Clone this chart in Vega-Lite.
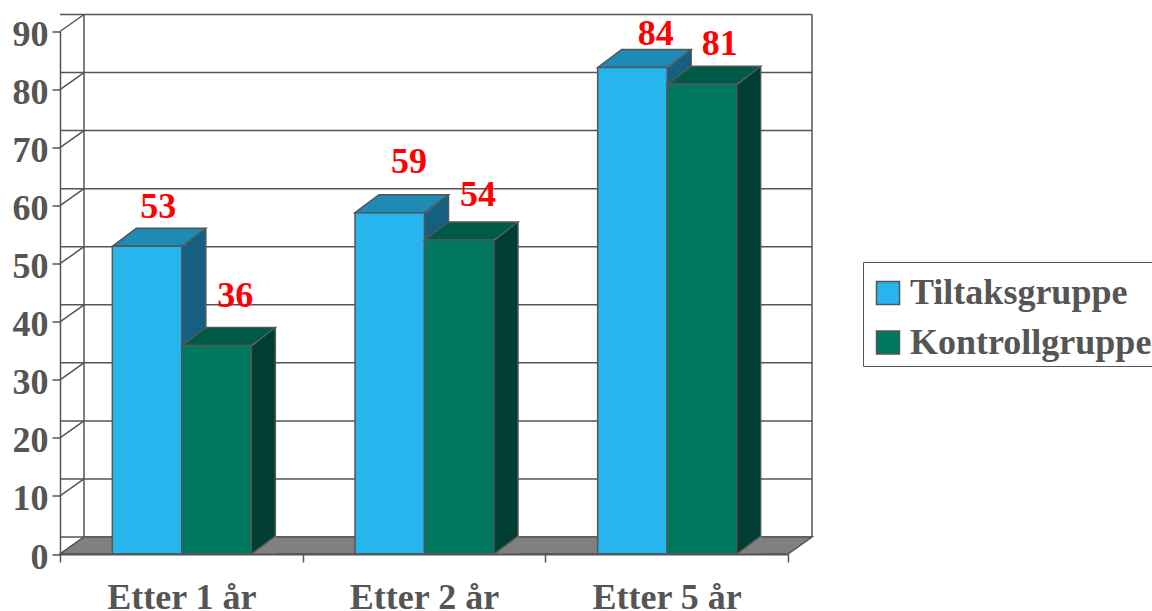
{
"$schema":"https://vega.github.io/schema/vega-lite/v6.json",
"width":728,"height":522.5,
"autosize":{"type":"none"},
"padding":{"left":60,"top":31.5,"right":364,"bottom":57},
"background":"white",
"config":{"view":{"stroke":null},"font":"Liberation Serif"},
"datasets":{
"bars":[
{"group":"Etter 1 år","series":"Tiltaksgruppe","value":53.0},
{"group":"Etter 1 år","series":"Kontrollgruppe","value":35.9},
{"group":"Etter 2 år","series":"Tiltaksgruppe","value":58.8},
{"group":"Etter 2 år","series":"Kontrollgruppe","value":54.1},
{"group":"Etter 5 år","series":"Tiltaksgruppe","value":83.8},
{"group":"Etter 5 år","series":"Kontrollgruppe","value":80.9}],
"ticks":[{"tick":0},{"tick":10},{"tick":20},{"tick":30},{"tick":40},{"tick":50},{"tick":60},{"tick":70},{"tick":80},{"tick":90}]
},
"layer":[
{"data":{"name":"ticks"},"mark":{"type":"rule","xOffset":24,"x2Offset":24,"yOffset":-17,"stroke":"#555555","strokeWidth":1.5},
 "encoding":{"y":{"field":"tick","type":"quantitative","scale":{"domain":[0,90],"nice":false},
   "axis":{"values":[0,10,20,30,40,50,60,70,80,90],"title":null,"grid":false,"domainColor":"#555555","domainWidth":1.5,"tickColor":"#555555","tickWidth":1.5,"tickSize":8,"labelPadding":4,"labelOffset":3,"labelFont":"Liberation Serif","labelFontWeight":"bold","labelFontSize":36,"labelColor":"#555555"}}}},
{"data":{"name":"ticks"},"mark":{"type":"point","shape":"M0,0L24,-17","size":4,"filled":false,"opacity":1,"stroke":"#555555","strokeWidth":1.5},
 "encoding":{"x":{"datum":"Etter 1 år","bandPosition":0,"type":"nominal"},"y":{"field":"tick","type":"quantitative"}}},
{"data":{"values":[{"a":1}]},"mark":{"type":"rule","xOffset":24,"yOffset":-17,"y2Offset":-17,"stroke":"#555555","strokeWidth":1.5},
 "encoding":{"x":{"datum":"Etter 1 år","bandPosition":0,"type":"nominal"},"y":{"datum":0},"y2":{"datum":90}}},
{"data":{"values":[{"a":1}]},"mark":{"type":"rule","xOffset":24,"yOffset":-17,"y2Offset":-17,"stroke":"#555555","strokeWidth":1.5},
 "encoding":{"x":{"datum":"Etter 5 år","bandPosition":1,"type":"nominal"},"y":{"datum":0},"y2":{"datum":90}}},
{"data":{"values":[{"a":1}]},"mark":{"type":"point","shape":"M0,0L24,-17L752,-17L728,0Z","size":4,"filled":true,"opacity":1,"fill":"#808080","stroke":"#555555","strokeWidth":1.5},
 "encoding":{"x":{"datum":"Etter 1 år","bandPosition":0,"type":"nominal"},"y":{"datum":0}}},

{"data":{"name":"bars"},"transform":[{"filter":"datum.series==='Tiltaksgruppe'"}],
 "mark":{"type":"bar","width":24,"xOffset":12.5,"fill":"#155F80"},
 "encoding":{"x":{"field":"group","type":"nominal"},"y":{"field":"value","type":"quantitative"},"y2":{"datum":0}}},
{"data":{"name":"bars"},"transform":[{"filter":"datum.series==='Tiltaksgruppe'"}],
 "mark":{"type":"point","shape":"M0,1L24,-18L24,1Z","size":4,"filled":true,"opacity":1,"fill":"#155F80","strokeWidth":0,"xOffset":0.5},
 "encoding":{"x":{"field":"group","type":"nominal"},"y":{"field":"value","type":"quantitative"}}},
{"data":{"name":"bars"},"transform":[{"filter":"datum.series==='Tiltaksgruppe'"}],
 "mark":{"type":"rule","xOffset":24.5,"yOffset":-18,"y2Offset":-18,"stroke":"#555555","strokeWidth":1.5},
 "encoding":{"x":{"field":"group","type":"nominal"},"y":{"field":"value","type":"quantitative"},"y2":{"datum":0}}},
{"data":{"name":"bars"},"transform":[{"filter":"datum.series==='Tiltaksgruppe'"}],
 "mark":{"type":"point","shape":"M0,0L24,-18L93.5,-18L69.5,0Z","size":4,"filled":true,"opacity":1,"fill":"#1E8BB5","stroke":"#555555","strokeWidth":1.5,"xOffset":-69},
 "encoding":{"x":{"field":"group","type":"nominal"},"y":{"field":"value","type":"quantitative"}}},
{"data":{"name":"bars"},"transform":[{"filter":"datum.series==='Tiltaksgruppe'"}],
 "mark":{"type":"bar","width":69.5,"xOffset":-34.25,"stroke":"#555555","strokeWidth":1.5},
 "encoding":{"x":{"field":"group","type":"nominal","sort":["Etter 1 år","Etter 2 år","Etter 5 år"],
   "scale":{"type":"band","paddingInner":0,"paddingOuter":0,"domain":["Etter 1 år","Etter 2 år","Etter 5 år"]},
   "axis":{"title":null,"labelAngle":0,"labelAlign":"center","labelBaseline":"top","tickBand":"extent","domainColor":"#555555","domainWidth":2,"tickColor":"#555555","tickWidth":1.5,"tickSize":8,"labelPadding":18,"labelFont":"Liberation Serif","labelFontWeight":"bold","labelFontSize":36,"labelColor":"#555555","zindex":1}},
  "y":{"field":"value","type":"quantitative"},"y2":{"datum":0},
  "color":{"field":"series","type":"nominal","sort":["Tiltaksgruppe","Kontrollgruppe"],"scale":{"domain":["Tiltaksgruppe","Kontrollgruppe"],"range":["#26B5EC","#007860"]},
  "legend":{"orient":"none","legendX":803,"legendY":230.5,"title":" ","titleFontSize":4,"titlePadding":4,"fillColor":"white","strokeColor":"#555555","padding":5,"symbolType":"square","symbolSize":529,"symbolStrokeColor":"#555555","symbolStrokeWidth":1.5,"symbolOffset":2,"labelFont":"Liberation Serif","labelFontWeight":"bold","labelFontSize":36,"labelColor":"#555555","labelLimit":400,"rowPadding":13.5,"labelOffset":4}}}},

{"data":{"name":"bars"},"transform":[{"filter":"datum.series==='Kontrollgruppe'"}],
 "mark":{"type":"bar","width":24,"xOffset":82,"fill":"#003D32"},
 "encoding":{"x":{"field":"group","type":"nominal"},"y":{"field":"value","type":"quantitative"},"y2":{"datum":0}}},
{"data":{"name":"bars"},"transform":[{"filter":"datum.series==='Kontrollgruppe'"}],
 "mark":{"type":"point","shape":"M0,1L24,-18L24,1Z","size":4,"filled":true,"opacity":1,"fill":"#003D32","strokeWidth":0,"xOffset":70},
 "encoding":{"x":{"field":"group","type":"nominal"},"y":{"field":"value","type":"quantitative"}}},
{"data":{"name":"bars"},"transform":[{"filter":"datum.series==='Kontrollgruppe'"}],
 "mark":{"type":"rule","xOffset":94,"yOffset":-18,"y2Offset":-18,"stroke":"#555555","strokeWidth":1.5},
 "encoding":{"x":{"field":"group","type":"nominal"},"y":{"field":"value","type":"quantitative"},"y2":{"datum":0}}},
{"data":{"name":"bars"},"transform":[{"filter":"datum.series==='Kontrollgruppe'"}],
 "mark":{"type":"point","shape":"M0,0L24,-18L25,-18L25,0Z","size":4,"filled":true,"opacity":1,"fill":"#808080","strokeWidth":0,"xOffset":70},
 "encoding":{"x":{"field":"group","type":"nominal"},"y":{"datum":0}}},
{"data":{"name":"bars"},"transform":[{"filter":"datum.series==='Kontrollgruppe'"}],
 "mark":{"type":"point","shape":"M0,0L24,-18","size":4,"filled":false,"opacity":1,"stroke":"#555555","strokeWidth":1.5,"xOffset":70},
 "encoding":{"x":{"field":"group","type":"nominal"},"y":{"datum":0}}},
{"data":{"name":"bars"},"transform":[{"filter":"datum.series==='Kontrollgruppe'"}],
 "mark":{"type":"point","shape":"M0,0L24,-18L93.5,-18L69.5,0Z","size":4,"filled":true,"opacity":1,"fill":"#005A48","stroke":"#555555","strokeWidth":1.5,"xOffset":0.5},
 "encoding":{"x":{"field":"group","type":"nominal"},"y":{"field":"value","type":"quantitative"}}},
{"data":{"name":"bars"},"transform":[{"filter":"datum.series==='Kontrollgruppe'"}],
 "mark":{"type":"bar","width":69.5,"xOffset":35.25,"stroke":"#555555","strokeWidth":1.5},
 "encoding":{"x":{"field":"group","type":"nominal"},"y":{"field":"value","type":"quantitative"},"y2":{"datum":0},"color":{"field":"series","type":"nominal"}}},

{"data":{"name":"bars"},"transform":[{"filter":"datum.value===53"}],
 "mark":{"type":"text","font":"Liberation Serif","fontWeight":"bold","fontSize":36,"fill":"#FF0000","baseline":"middle","align":"center","dx":-23,"dy":-39},
 "encoding":{"x":{"field":"group","type":"nominal"},"y":{"field":"value","type":"quantitative"},"text":{"field":"value","format":".0f","type":"quantitative"}}},
{"data":{"name":"bars"},"transform":[{"filter":"datum.value===35.9"}],
 "mark":{"type":"text","font":"Liberation Serif","fontWeight":"bold","fontSize":36,"fill":"#FF0000","baseline":"middle","align":"center","dx":54,"dy":-50},
 "encoding":{"x":{"field":"group","type":"nominal"},"y":{"field":"value","type":"quantitative"},"text":{"field":"value","format":".0f","type":"quantitative"}}},
{"data":{"name":"bars"},"transform":[{"filter":"datum.value===58.8"}],
 "mark":{"type":"text","font":"Liberation Serif","fontWeight":"bold","fontSize":36,"fill":"#FF0000","baseline":"middle","align":"center","dx":-15,"dy":-51},
 "encoding":{"x":{"field":"group","type":"nominal"},"y":{"field":"value","type":"quantitative"},"text":{"field":"value","format":".0f","type":"quantitative"}}},
{"data":{"name":"bars"},"transform":[{"filter":"datum.value===54.1"}],
 "mark":{"type":"text","font":"Liberation Serif","fontWeight":"bold","fontSize":36,"fill":"#FF0000","baseline":"middle","align":"center","dx":54,"dy":-45},
 "encoding":{"x":{"field":"group","type":"nominal"},"y":{"field":"value","type":"quantitative"},"text":{"field":"value","format":".0f","type":"quantitative"}}},
{"data":{"name":"bars"},"transform":[{"filter":"datum.value===83.8"}],
 "mark":{"type":"text","font":"Liberation Serif","fontWeight":"bold","fontSize":36,"fill":"#FF0000","baseline":"middle","align":"center","dx":-11,"dy":-33},
 "encoding":{"x":{"field":"group","type":"nominal"},"y":{"field":"value","type":"quantitative"},"text":{"field":"value","format":".0f","type":"quantitative"}}},
{"data":{"name":"bars"},"transform":[{"filter":"datum.value===80.9"}],
 "mark":{"type":"text","font":"Liberation Serif","fontWeight":"bold","fontSize":36,"fill":"#FF0000","baseline":"middle","align":"center","dx":53,"dy":-40},
 "encoding":{"x":{"field":"group","type":"nominal"},"y":{"field":"value","type":"quantitative"},"text":{"field":"value","format":".0f","type":"quantitative"}}}
]
}
